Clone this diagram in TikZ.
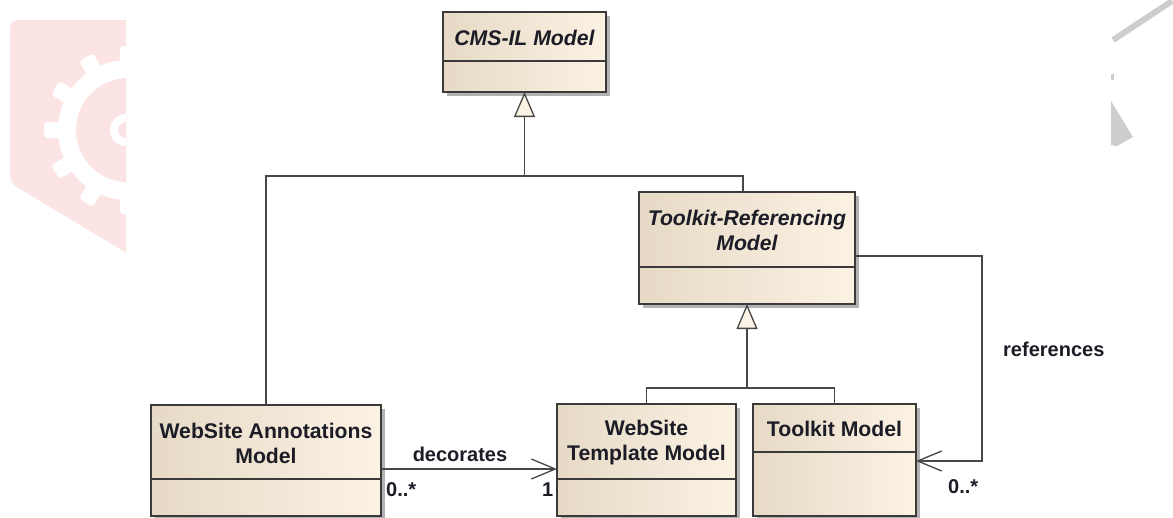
\documentclass[tikz,border=0pt]{standalone}
\usepackage{fontspec}
\setmainfont{Liberation Sans}
\usetikzlibrary{arrows.meta,shadows}
\definecolor{boxL}{HTML}{E6DAC6}
\definecolor{boxR}{HTML}{FCF2E4}
\definecolor{boxborder}{HTML}{3A3A3A}
\definecolor{connc}{HTML}{474747}
\definecolor{txt}{HTML}{1C1C26}
\definecolor{cream}{HTML}{FBF3E6}
\definecolor{wmpink}{HTML}{FDE4E4}
\definecolor{wmgrey}{HTML}{CDCDCD}
\tikzset{
  classbox/.style={draw=boxborder, line width=1.3pt, left color=boxL, right color=boxR,
    drop shadow={shadow xshift=4pt, shadow yshift=-4pt, fill=black, opacity=0.3},
    inner sep=0pt, outer sep=0pt, rectangle},
  divider/.style={draw=boxborder, line width=1.3pt},
  ctitle/.style={font=\fontsize{21.2}{25}\selectfont\bfseries, text=txt, align=center, inner sep=0pt},
  lbl/.style={font=\fontsize{20}{24}\selectfont\bfseries, text=txt, inner sep=0pt},
  conn/.style={draw=connc, line width=1.7pt},
  gen/.style={-{Triangle[open, length=25pt, width=21pt, fill=cream, line width=1.3pt]}},
  assoc/.style={-{Straight Barb[length=24pt, width=20pt, line width=1.3pt]}}
}
\begin{document}
\begin{tikzpicture}[x=1pt,y=-1pt]
\useasboundingbox (0,0) rectangle (1173,517);
% watermark left
\begin{scope}
  \clip (0,0) rectangle (126,517);
  \fill[wmpink, rounded corners=8pt] (10,183) -- (10,20) -- (140,20) -- (140,261) -- cycle;
  \fill[white] (128,130) circle (70);
  \foreach \a in {0,30,...,330}{
    \fill[white, rounded corners=3pt, shift={(128,130)}, rotate=\a] (-8,0) rectangle (8,84);
  }
  \fill[wmpink] (128,130) circle (52);
  \fill[white] (126,130) circle (16);
  \fill[wmpink] (126,130) circle (8);
\end{scope}
% watermark right
\draw[wmgrey, line width=6pt] (1113,40) -- (1172,1);
\fill[wmgrey] (1111,74) rectangle (1114,80);
\fill[wmgrey] (1111,101) -- (1133,137) -- (1117,146) -- (1111,145) -- cycle;

% classes
\node[classbox, minimum width=163pt, minimum height=80pt] (cms) at (524.5,52) {};
\draw[divider] (cms.west |- 0,61) -- (cms.east |- 0,61);
\node[ctitle] (cmsT) at (524.5,38) {\itshape CMS-IL Model};

\node[classbox, minimum width=216pt, minimum height=112pt] (trm) at (747,248) {};
\draw[divider] (trm.west |- 0,267) -- (trm.east |- 0,267);
\node[ctitle] (trmT) at (747,230) {\itshape Toolkit-Referencing\\\itshape Model};

\node[classbox, minimum width=230pt, minimum height=111pt] (wam) at (266,460.5) {};
\draw[divider] (wam.west |- 0,479) -- (wam.east |- 0,479);
\node[ctitle] (wamT) at (266,443) {WebSite Annotations\\Model};

\node[classbox, minimum width=179pt, minimum height=112pt] (wtm) at (646.5,460) {};
\draw[divider] (wtm.west |- 0,479) -- (wtm.east |- 0,479);
\node[ctitle] (wtmT) at (646.5,443) {WebSite\\Template Model};

\node[classbox, minimum width=163pt, minimum height=112pt] (tm) at (834.5,460) {};
\draw[divider] (tm.west |- 0,452) -- (tm.east |- 0,452);
\node[ctitle] (tmT) at (834.5,429) {Toolkit Model};

% generalizations
\coordinate (g1) at (524.5,176);
\draw[conn, gen] (g1) -- (cms.south);
\draw[conn] (wam.north) |- (g1) -| ([xshift=-4pt]trm.north);

\coordinate (g2) at (747,388);
\draw[conn, gen] (g2) -- (trm.south);
\draw[conn] (wtm.north) |- (g2) -| (tm.north);

% decorates
\draw[conn, assoc] (wam.east |- 0,469) -- (wtm.west |- 0,469);
\node[lbl] (decL) at (460,454) {decorates};
\node[lbl, anchor=west] (decM1) at (386,490) {0..*};
\node[lbl, anchor=west] (decM2) at (542,490) {1};

% references
\coordinate (r1) at (982,256);
\coordinate (r2) at (982,461);
\draw[conn, assoc] (trm.east |- r1) -- (r1) -- (r2) -- (tm.east |- r2);
\node[lbl, anchor=west] (refL) at (1003,349) {references};
\node[lbl, anchor=west] (refM) at (948,487) {0..*};
\end{tikzpicture}
\end{document}
